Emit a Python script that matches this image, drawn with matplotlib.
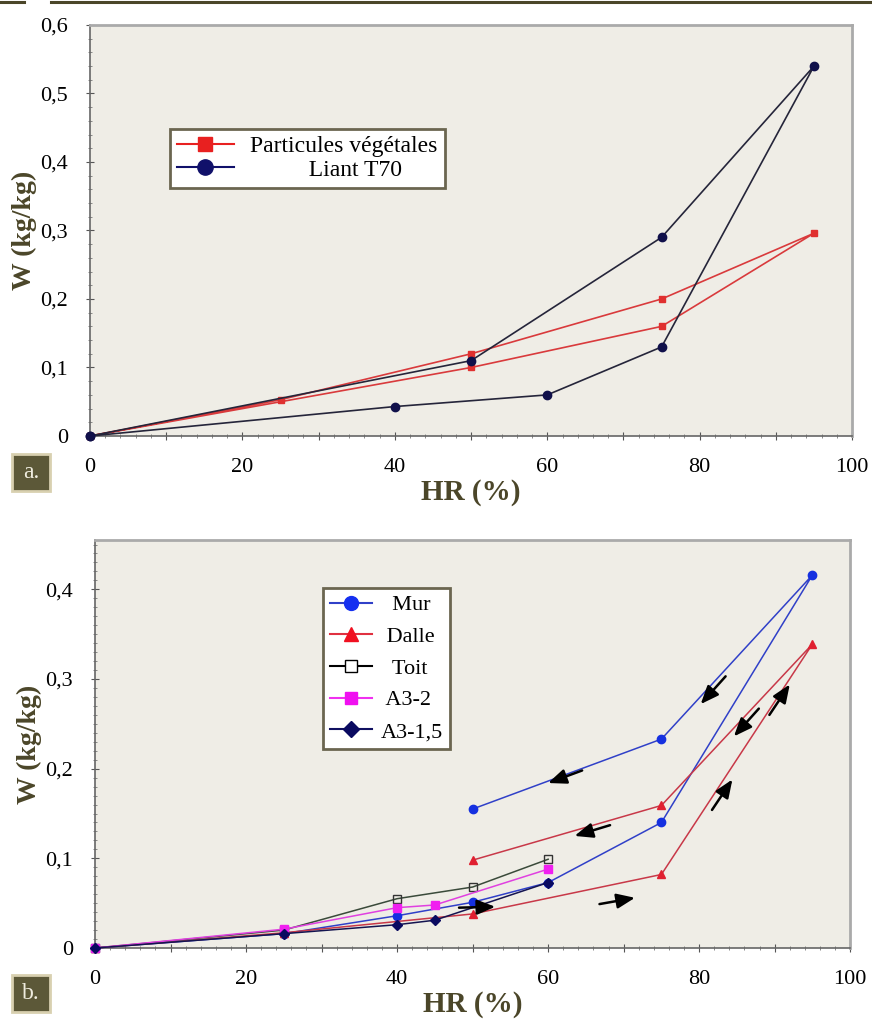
import matplotlib
matplotlib.use("Agg")
import matplotlib.pyplot as plt
from matplotlib.ticker import MultipleLocator, FuncFormatter
from matplotlib.lines import Line2D
from matplotlib.patches import FancyBboxPatch

plt.rcParams['font.family'] = ['Liberation Serif', 'DejaVu Serif']

# ---------------------------------------------------------------- données (a)
hr_veg = [0, 50, 75, 95, 75, 50, 25, 0]
w_veg = [0, 0.10, 0.16, 0.296, 0.20, 0.12, 0.053, 0]

hr_t70 = [0, 40, 60, 75, 95, 75, 50, 0]
w_t70 = [0, 0.043, 0.06, 0.13, 0.54, 0.29, 0.11, 0]

# ---------------------------------------------------------------- données (b)
hr_mur = [0, 25, 40, 50, 60, 75, 95, 75, 50]
w_mur = [0, 0.016, 0.036, 0.051, 0.073, 0.14, 0.416, 0.233, 0.155]

hr_dalle = [0, 25, 50, 75, 95, 75, 50]
w_dalle = [0, 0.017, 0.038, 0.082, 0.339, 0.159, 0.098]

hr_toit = [0, 25, 40, 50, 60]
w_toit = [0, 0.02, 0.055, 0.068, 0.099]

hr_a32 = [0, 25, 40, 45, 60]
w_a32 = [0, 0.021, 0.045, 0.048, 0.088]

hr_a315 = [0, 25, 40, 45, 60]
w_a315 = [0, 0.016, 0.026, 0.031, 0.073]

# flèches de sens (queue x, queue y, tête x, tête y)
fleches = [
    (83.5, 0.303, 80.2, 0.272),
    (64.5, 0.198, 60.0, 0.184),
    (68.2, 0.137, 63.5, 0.125),
    (87.9, 0.267, 84.6, 0.236),
    (48.2, 0.045, 53.0, 0.046),
    (66.8, 0.049, 71.5, 0.056),
    (81.7, 0.154, 84.4, 0.188),
    (89.3, 0.260, 92.0, 0.294),
]

olive = "#4b4629"
fond = "#efede6"


def virgule(v, p):
    if abs(v) < 1e-9:
        return "0"
    return f"{v:.1f}".replace(".", ",")


def x_lab(v, p):
    if int(round(v)) % 20 == 0:
        return f"{int(round(v))}"
    return ""


def habiller(ax, ymax, ymin_step):
    ax.set_facecolor(fond)
    ax.set_xlim(0, 100)
    ax.set_ylim(0, ymax)
    ax.xaxis.set_major_locator(MultipleLocator(10))
    ax.xaxis.set_minor_locator(MultipleLocator(2))
    ax.xaxis.set_major_formatter(FuncFormatter(x_lab))
    ax.yaxis.set_major_locator(MultipleLocator(0.1))
    ax.yaxis.set_minor_locator(MultipleLocator(ymin_step))
    ax.yaxis.set_major_formatter(FuncFormatter(virgule))
    ax.tick_params(which="major", direction="inout", length=6,
                   color="#555555", labelsize=16, pad=13)
    ax.tick_params(which="minor", direction="inout", length=3,
                   color="#777777")
    ax.tick_params(axis="x", which="major", pad=13)
    for s in ["left", "bottom"]:
        ax.spines[s].set_color("#666666")
        ax.spines[s].set_linewidth(1.2)
    for s in ["top", "right"]:
        ax.spines[s].set_color("#aaaaaa")
        ax.spines[s].set_linewidth(2)
    ax.set_ylabel("W (kg/kg)", fontsize=20, fontweight="bold", color=olive,
                  labelpad=2)
    ax.set_xlabel("HR (%)", fontsize=21, fontweight="bold", color=olive,
                  labelpad=1)


def cadre(leg):
    leg.get_frame().set_edgecolor("#6b6650")
    leg.get_frame().set_linewidth(2)
    leg.get_frame().set_facecolor("white")
    leg.get_frame().set_alpha(1)


fig = plt.figure(figsize=(8.72, 10.23), dpi=100)

# ---------------------------------------------------------------- panneau a
ax1 = fig.add_axes([0.1032, 0.5738, 0.874, 0.4018])
ax1.plot(hr_veg, w_veg, color="#d93a3c", lw=1.2, marker="s", ms=5,
         markerfacecolor="#e0302f", markeredgecolor="#e0302f",
         label="Particules végétales", clip_on=False, zorder=3)
ax1.plot(hr_t70, w_t70, color="#25253a", lw=1.2, marker="o", ms=6,
         markerfacecolor="#10104a", markeredgecolor="#10104a",
         label="Liant T70", clip_on=False, zorder=4)
habiller(ax1, 0.6, 0.02)
h = [Line2D([], [], color="#e82020", lw=1.5, marker="s", ms=10),
     Line2D([], [], color="#10106a", lw=1.5, marker="o", ms=11)]
l = ["Particules végétales", "          Liant T70"]
leg1 = ax1.legend(h, l, loc="upper left", bbox_to_anchor=(0.105, 0.748),
                  fontsize=17, frameon=True, fancybox=False,
                  handlelength=2.4, borderpad=0.3, labelspacing=0.08,
                  handletextpad=0.7, borderaxespad=0)
cadre(leg1)

# ---------------------------------------------------------------- panneau b
ax2 = fig.add_axes([0.109, 0.0733, 0.866, 0.3988])
ax2.plot(hr_mur, w_mur, color="#3040c8", lw=1.1, marker="o", ms=6,
         markerfacecolor="#1530e0", markeredgecolor="#1530e0",
         label="Mur", clip_on=False, zorder=4)
ax2.plot(hr_dalle, w_dalle, color="#c83848", lw=1.1, marker="^", ms=6,
         markerfacecolor="#e02030", markeredgecolor="#e02030",
         label="Dalle", clip_on=False, zorder=4)
ax2.plot(hr_toit, w_toit, color="#3a4a3a", lw=1.1, marker="s", ms=6,
         markerfacecolor="none", markeredgecolor="#333333",
         label="Toit", clip_on=False, zorder=4)
ax2.plot(hr_a32, w_a32, color="#e040e0", lw=1.1, marker="s", ms=6,
         markerfacecolor="#f020f0", markeredgecolor="#f020f0",
         label="A3-2", clip_on=False, zorder=4)
ax2.plot(hr_a315, w_a315, color="#141450", lw=1.1, marker="D", ms=5,
         markerfacecolor="#0a0a60", markeredgecolor="#0a0a60",
         label="A3-1,5", clip_on=False, zorder=5)
for x0, y0, x1, y1 in fleches:
    ax2.annotate("", xy=(x1, y1), xytext=(x0, y0),
                 arrowprops=dict(arrowstyle="-|>,head_length=1.1,head_width=0.45",
                                 color="black", lw=1.8, shrinkA=0, shrinkB=0),
                 zorder=6)
habiller(ax2, 0.455, 0.01)
h2 = [
    Line2D([], [], color="#3040c8", lw=1.5, marker="o", ms=10,
           markerfacecolor="#1530f0", markeredgecolor="#1530f0"),
    Line2D([], [], color="#e03040", lw=1.5, marker="^", ms=10,
           markerfacecolor="#f01020", markeredgecolor="#f01020"),
    Line2D([], [], color="black", lw=1.5, marker="s", ms=9,
           markerfacecolor="white", markeredgecolor="black"),
    Line2D([], [], color="#f030f0", lw=1.5, marker="s", ms=9,
           markerfacecolor="#f010f0", markeredgecolor="#f010f0"),
    Line2D([], [], color="#101060", lw=1.5, marker="D", ms=8,
           markerfacecolor="#0a0a60", markeredgecolor="#0a0a60"),
]
l2 = ["  Mur", " Dalle", "  Toit", " A3-2", "A3-1,5"]
leg2 = ax2.legend(h2, l2, loc="upper left", bbox_to_anchor=(0.302, 0.882),
                  fontsize=16, frameon=True, fancybox=False,
                  handlelength=1.9, borderpad=0.3, labelspacing=0.5,
                  handletextpad=0.4, borderaxespad=0)
cadre(leg2)

# ---------------------------------------------------------------- étiquettes a. / b.
for lettre, yb in [("a.", 0.520), ("b.", 0.011)]:
    boite = FancyBboxPatch((0.014, yb), 0.043, 0.036,
                           boxstyle="square,pad=0", transform=fig.transFigure,
                           facecolor="#5c5838", edgecolor="#d8d0b0", lw=2)
    fig.add_artist(boite)
    fig.text(0.0355, yb + 0.018, lettre, color="#efecdf", fontsize=17,
             ha="center", va="center")

# filet du haut
fig.add_artist(Line2D([0, 0.028], [0.998, 0.998], color=olive, lw=2.2,
                      transform=fig.transFigure))
fig.add_artist(Line2D([0.058, 1], [0.998, 0.998], color=olive, lw=2.2,
                      transform=fig.transFigure))

fig.savefig("out.png", dpi=100)
